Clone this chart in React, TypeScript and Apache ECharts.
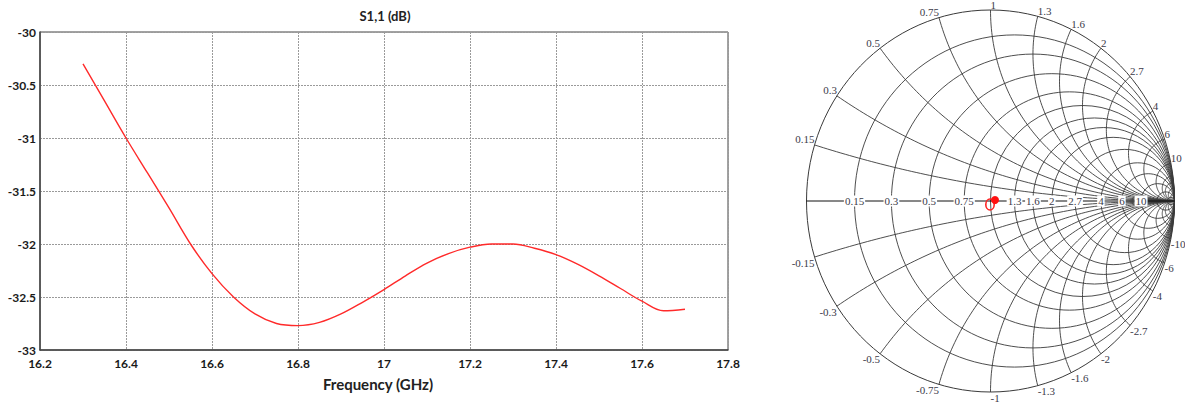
import React, { useEffect, useRef } from "react";
import * as echarts from "echarts";

// ---- Line chart data (S1,1 in dB vs frequency in GHz) ----
const freqGHz = [
  16.3, 16.35, 16.4, 16.45, 16.5, 16.55, 16.6, 16.65, 16.7, 16.75, 16.8, 16.85, 16.9, 16.95, 17.0,
  17.05, 17.1, 17.15, 17.2, 17.25, 17.3, 17.35, 17.4, 17.45, 17.5, 17.55, 17.6, 17.65, 17.7,
];
const s11dB = [
  -30.3, -30.65, -31.0, -31.33, -31.66, -32.0, -32.28, -32.5, -32.66, -32.75, -32.77, -32.74, -32.66,
  -32.55, -32.43, -32.3, -32.18, -32.09, -32.03, -32.0, -32.0, -32.04, -32.1, -32.19, -32.3, -32.42,
  -32.54, -32.63, -32.615,
];

// ---- Smith chart grid values ----
const resistanceValues = [0.15, 0.3, 0.5, 0.75, 1, 1.3, 1.6, 2, 2.7, 4, 6, 10];
const reactanceValues = [0.15, 0.3, 0.5, 0.75, 1, 1.3, 1.6, 2, 2.7, 4, 6, 10];
const extraResistance = [20, 50];
const extraReactance = [15, 20, 30, 50, 100];

// ---- Layout ----
const W = 1185;
const H = 403;
const CX = 990.5;
const CY = 201;
const RX = 184;
const RY = 191;
const GRID_COLOR = "#3a3a3a";
const LABEL_FONT = '11px "Liberation Serif"';
const LABEL_COLOR = "#3b3b4a";

const fmt = (v: number) => String(parseFloat(v.toFixed(2)));

function toScreen(u: number, v: number): [number, number] {
  return [CX + u * RX, CY - v * RY];
}

function reactanceArc(x: number): number[][] {
  const ax = Math.abs(x);
  const cu = 1;
  const cv = 1 / ax;
  const R = 1 / ax;
  const pu = (ax * ax - 1) / (ax * ax + 1);
  const pv = (2 * ax) / (ax * ax + 1);
  let t0 = Math.atan2(pv - cv, pu - cu);
  if (t0 < 0) t0 += Math.PI * 2;
  const t1 = Math.PI * 1.5;
  const n = 80;
  const pts: number[][] = [];
  for (let i = 0; i <= n; i++) {
    const t = t0 + ((t1 - t0) * i) / n;
    const u = cu + R * Math.cos(t);
    let v = cv + R * Math.sin(t);
    if (x < 0) v = -v;
    pts.push(toScreen(u, v));
  }
  return pts;
}

function buildSmith(): any[] {
  const els: any[] = [];
  const lineStyle = { fill: "none", stroke: GRID_COLOR, lineWidth: 0.9 };
  els.push({
    type: "ellipse",
    silent: true,
    z: 10,
    shape: { cx: CX, cy: CY, rx: RX, ry: RY },
    style: { fill: "#fff", stroke: GRID_COLOR, lineWidth: 1 },
  });
  [...resistanceValues, ...extraResistance].forEach((r) => {
    els.push({
      type: "ellipse",
      silent: true,
      z: 11,
      shape: { cx: CX + (RX * r) / (r + 1), cy: CY, rx: RX / (r + 1), ry: RY / (r + 1) },
      style: lineStyle,
    });
  });
  [...reactanceValues, ...extraReactance].forEach((x) => {
    [x, -x].forEach((xv) => {
      els.push({
        type: "polyline",
        silent: true,
        z: 11,
        shape: { points: reactanceArc(xv) },
        style: lineStyle,
      });
    });
  });
  els.push({
    type: "line",
    silent: true,
    z: 12,
    shape: { x1: CX - RX, y1: CY, x2: CX + RX, y2: CY },
    style: { stroke: "#111", lineWidth: 1 },
  });
  resistanceValues
    .filter((r) => r !== 1)
    .forEach((r) => {
      const [sx, sy] = toScreen((r - 1) / (r + 1), 0);
      els.push({
        type: "text",
        silent: true,
        z: 20,
        style: {
          text: fmt(r),
          x: sx,
          y: sy,
          align: "center",
          verticalAlign: "middle",
          font: LABEL_FONT,
          fill: LABEL_COLOR,
          backgroundColor: "#fff",
          padding: [0, 1],
        },
      });
    });
  reactanceValues.forEach((x) => {
    [x, -x].forEach((xv) => {
      const u = (xv * xv - 1) / (xv * xv + 1);
      const v = (2 * xv) / (xv * xv + 1);
      const [sx, sy] = toScreen(u, v);
      const left = u < -0.001;
      els.push({
        type: "text",
        silent: true,
        z: 20,
        style: {
          text: fmt(xv),
          x: sx,
          y: sy,
          align: left ? "right" : "left",
          verticalAlign: xv > 0 ? "bottom" : "top",
          font: LABEL_FONT,
          fill: LABEL_COLOR,
        },
      });
    });
  });
  els.push({
    type: "ellipse",
    silent: true,
    z: 25,
    shape: { cx: 990, cy: 204.5, rx: 4.2, ry: 5.5 },
    style: { fill: "none", stroke: "#ff2020", lineWidth: 1.6 },
  });
  els.push({
    type: "circle",
    silent: true,
    z: 26,
    shape: { cx: 995, cy: 200, r: 4 },
    style: { fill: "#ff1010" },
  });
  return els;
}

export default function App() {
  const ref = useRef<HTMLDivElement>(null);
  useEffect(() => {
    document.body.style.margin = "0";
    const chart = echarts.init(ref.current!, null, { renderer: "svg" });
    const tickFont = { fontFamily: "Lato", fontWeight: "bold" as const, fontSize: 12, color: "#1a1a1a" };
    chart.setOption({
      animation: false,
      backgroundColor: "#fff",
      grid: {
        left: 40,
        top: 32,
        width: 688,
        height: 318,
        show: true,
        borderColor: "#444",
        borderWidth: 1,
      },
      xAxis: {
        type: "value",
        min: 16.2,
        max: 17.8,
        interval: 0.2,
        axisLine: { show: true, lineStyle: { color: "#444", width: 1.5 } },
        axisTick: { show: false },
        axisLabel: { ...tickFont, margin: 7, formatter: (v: number) => fmt(v) },
        splitLine: { show: true, lineStyle: { color: "#9a9a9a", type: [2, 1], width: 1 } },
      },
      yAxis: {
        type: "value",
        min: -33,
        max: -30,
        interval: 0.5,
        axisLine: { show: true, lineStyle: { color: "#444", width: 1.5 } },
        axisTick: { show: false },
        axisLabel: { ...tickFont, margin: 4, formatter: (v: number) => fmt(v) },
        splitLine: { show: true, lineStyle: { color: "#9a9a9a", type: [2, 1], width: 1 } },
      },
      series: [
        {
          type: "line",
          data: freqGHz.map((f, i) => [f, s11dB[i]]),
          smooth: 0.35,
          showSymbol: false,
          lineStyle: { color: "#ff2a2a", width: 1.4 },
        },
      ],
      graphic: [
        {
          type: "text",
          silent: true,
          style: {
            text: "S1,1 (dB)",
            x: 385,
            y: 16,
            align: "center",
            verticalAlign: "middle",
            font: 'bold 13px "Lato"',
            fill: "#222",
          },
        },
        {
          type: "text",
          silent: true,
          style: {
            text: "Frequency (GHz)",
            x: 378,
            y: 384,
            align: "center",
            verticalAlign: "middle",
            font: 'bold 15px "Lato"',
            fill: "#222",
          },
        },
        ...buildSmith(),
      ],
    });
    return () => chart.dispose();
  }, []);
  return <div ref={ref} style={{ width: W, height: H }} />;
}
